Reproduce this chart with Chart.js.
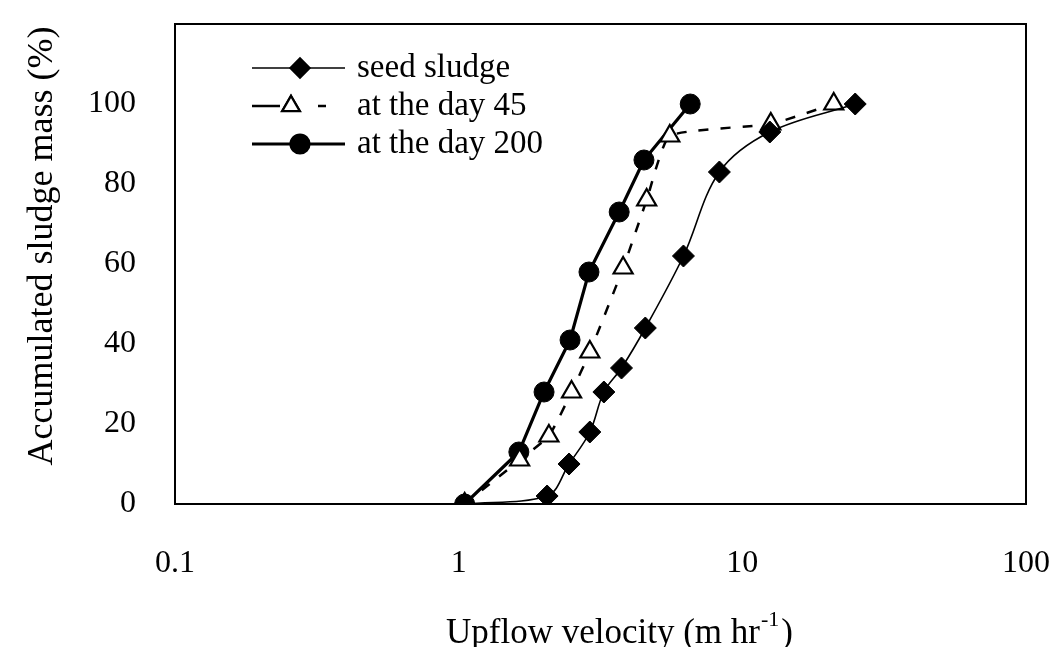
<!DOCTYPE html>
<html>
<head>
<meta charset="utf-8">
<title>Accumulated sludge mass vs upflow velocity</title>
<script src="https://cdn.jsdelivr.net/npm/chart.js@4.4.1/dist/chart.umd.min.js"></script>
<style>
    html, body { margin: 0; padding: 0; background: #fff; }
    #wrap { width: 1055px; height: 647px; }
</style>
</head>
<body>
<div id="wrap"><canvas id="sludgeChart" width="1055" height="647"></canvas></div>
<script>
// upflow velocity (m/hr) and accumulated mass (%) per sample
const seedX = [1.05, 2.05, 2.45, 2.9, 3.25, 3.75, 4.55, 6.2, 8.3, 12.5, 25];
const seedY = [0, 2, 10, 18, 28, 34, 44, 62, 83, 93, 100];

const day45X = [1.05, 1.64, 2.08, 2.5, 2.9, 3.8, 4.6, 5.55, 12.6, 21];
const day45Y = [0, 11, 17, 28, 38, 59, 76, 92, 95, 100];

const day200X = [1.05, 1.63, 2.0, 2.47, 2.88, 3.68, 4.5, 6.55];
const day200Y = [0, 13, 28, 41, 58, 73, 86, 100];

const xTicks = [0.1, 1, 10, 100];
const yTicks = [0, 20, 40, 60, 80, 100];

const seriesNames = ['seed sludge', 'at the day 45', 'at the day 200'];

const FONT = '"Liberation Serif", "DejaVu Serif", serif';

function toPoints(xs, ys) {
    return xs.map((x, i) => ({ x: x, y: ys[i] }));
}

function noPadding(scale) {
    scale.paddingTop = 0;
    scale.paddingBottom = 0;
    scale.paddingLeft = 0;
    scale.paddingRight = 0;
}

/* ===================================================== */
/* LEGEND (line + marker + label, like the figure)         */
/* ===================================================== */

// legend sample: y of row, marker x, dash pattern of the sample line
const legendRows = [
    { y: 68, xm: 300, dash: [] },
    { y: 106, xm: 291, dash: [28, 38, 8, 100] },
    { y: 144, xm: 300, dash: [] }
];

const legendPlugin = {
    id: 'figureLegend',
    afterDraw(chart) {
        const ctx = chart.ctx;
        const x0 = 252, x1 = 345;

        chart.data.datasets.forEach((ds, i) => {
            const row = legendRows[i];
            ctx.save();
            ctx.strokeStyle = '#000';
            ctx.lineWidth = ds.borderWidth;
            ctx.setLineDash(row.dash);
            ctx.beginPath();
            ctx.moveTo(x0, row.y);
            ctx.lineTo(x1, row.y);
            ctx.stroke();
            ctx.setLineDash([]);

            Chart.helpers.drawPoint(ctx, {
                pointStyle: ds.pointStyle,
                radius: ds.pointRadius - 1,
                borderWidth: ds.pointBorderWidth || 1
            }, row.xm, row.y);
            ctx.fillStyle = ds.pointBackgroundColor;
            ctx.strokeStyle = '#000';
            ctx.lineWidth = ds.pointBorderWidth || 1;
            ctx.fill();
            ctx.stroke();

            ctx.fillStyle = '#000';
            ctx.font = '33px ' + FONT;
            ctx.textBaseline = 'middle';
            ctx.fillText(ds.label, 357, row.y);
            ctx.restore();
        });
    }
};

/* ===================================================== */
/* FRAME + AXIS TITLES                                     */
/* ===================================================== */

const framePlugin = {
    id: 'frame',
    afterDatasetsDraw(chart) {
        const a = chart.chartArea;
        const ctx = chart.ctx;
        ctx.save();
        ctx.strokeStyle = '#000';
        ctx.lineWidth = 2;
        ctx.strokeRect(a.left, a.top, a.right - a.left, a.bottom - a.top);
        ctx.restore();
    }
};

const titlePlugin = {
    id: 'axisTitles',
    afterDraw(chart) {
        const ctx = chart.ctx;
        ctx.save();
        ctx.fillStyle = '#000';
        ctx.textBaseline = 'alphabetic';

        // y title, rotated
        ctx.save();
        ctx.translate(52, 246);
        ctx.rotate(-Math.PI / 2);
        ctx.font = '36px ' + FONT;
        ctx.textAlign = 'center';
        ctx.fillText('Accumulated sludge mass (%)', 0, 0);
        ctx.restore();

        // x title with superscript
        const base = 643;
        let x = 446;
        ctx.textAlign = 'left';
        ctx.font = '35px ' + FONT;
        const main = 'Upflow velocity (m hr';
        ctx.fillText(main, x, base);
        x += ctx.measureText(main).width + 1;
        ctx.font = '22px ' + FONT;
        ctx.fillText('-1', x, base - 17);
        x += ctx.measureText('-1').width + 2;
        ctx.font = '35px ' + FONT;
        ctx.fillText(')', x, base);
        ctx.restore();
    }
};

/* ===================================================== */
/* CHART                                                   */
/* ===================================================== */

const ctx = document.getElementById('sludgeChart').getContext('2d');

new Chart(ctx, {
    type: 'line',
    data: {
        datasets: [
            {
                label: seriesNames[0],
                data: toPoints(seedX, seedY),
                borderColor: '#000',
                borderWidth: 1.6,
                tension: 0.35,
                pointStyle: 'rectRot',
                pointRadius: 11,
                pointBackgroundColor: '#000',
                pointBorderColor: '#000',
                pointBorderWidth: 1
            },
            {
                label: seriesNames[1],
                data: toPoints(day45X, day45Y),
                borderColor: '#000',
                borderWidth: 2.5,
                borderDash: [10, 12],
                tension: 0.15,
                pointStyle: 'triangle',
                pointRadius: 11,
                pointBackgroundColor: '#fff',
                pointBorderColor: '#000',
                pointBorderWidth: 2.2
            },
            {
                label: seriesNames[2],
                data: toPoints(day200X, day200Y),
                borderColor: '#000',
                borderWidth: 3.2,
                tension: 0,
                pointStyle: 'circle',
                pointRadius: 10,
                pointBackgroundColor: '#000',
                pointBorderColor: '#000',
                pointBorderWidth: 1
            }
        ]
    },
    options: {
        responsive: false,
        animation: false,
        layout: { padding: { top: 24, right: 29, left: 0, bottom: 0 } },
        plugins: {
            legend: { display: false },
            tooltip: { enabled: false }
        },
        scales: {
            x: {
                type: 'logarithmic',
                min: 0.1,
                max: 100,
                afterBuildTicks: scale => {
                    scale.ticks = xTicks.map(v => ({ value: v }));
                },
                afterFit: scale => {
                    scale.height = 143;
                    noPadding(scale);
                },
                grid: { display: false, drawTicks: false },
                border: { display: false },
                ticks: {
                    color: '#000',
                    font: { family: FONT, size: 32 },
                    padding: 40,
                    maxRotation: 0,
                    autoSkip: false,
                    callback: v => String(v)
                },
                title: { display: false }
            },
            y: {
                min: 0,
                max: 120,
                afterBuildTicks: scale => {
                    scale.ticks = yTicks.map(v => ({ value: v }));
                },
                afterFit: scale => {
                    scale.width = 175;
                    noPadding(scale);
                },
                grid: { display: false, drawTicks: false },
                border: { display: false },
                ticks: {
                    color: '#000',
                    font: { family: FONT, size: 32 },
                    padding: 39
                },
                title: { display: false }
            }
        }
    },
    plugins: [framePlugin, legendPlugin, titlePlugin]
});
</script>
</body>
</html>
